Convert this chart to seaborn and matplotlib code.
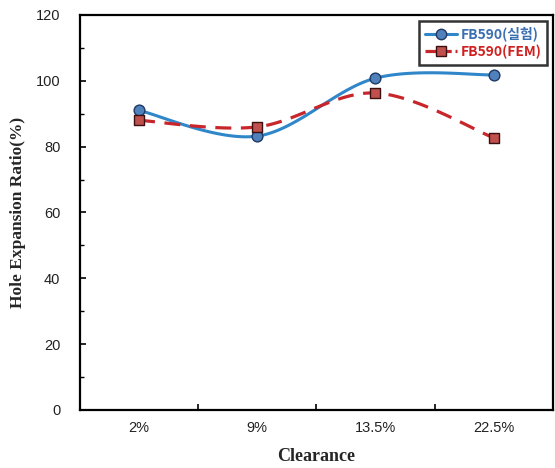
import numpy as np
import pandas as pd
import matplotlib
matplotlib.use("Agg")
import matplotlib.pyplot as plt
from matplotlib.lines import Line2D
from matplotlib.ticker import MultipleLocator, FixedLocator
import seaborn as sns

# Data
clearance = ["2%", "9%", "13.5%", "22.5%"]
her_test = [91.0, 83.2, 100.8, 101.8]   # FB590 (실험)
her_fem = [88.0, 86.0, 96.3, 82.7]      # FB590 (FEM)

sns.set_theme(style="white")
plt.rcParams["font.family"] = ["Liberation Sans", "DejaVu Sans"]


def smooth_curve(xs, ys, n=40):
    """Catmull-Rom style smoothing (cubic Bezier between neighbouring points)."""
    xs = np.asarray(xs, float)
    ys = np.asarray(ys, float)
    px = np.concatenate([[xs[0]], xs, [xs[-1]]])
    py = np.concatenate([[ys[0]], ys, [ys[-1]]])
    out_x, out_y = [], []
    t = np.linspace(0, 1, n)
    for i in range(1, len(px) - 2):
        p0 = np.array([px[i], py[i]])
        p3 = np.array([px[i + 1], py[i + 1]])
        c1 = p0 + (np.array([px[i + 1], py[i + 1]]) - np.array([px[i - 1], py[i - 1]])) / 6
        c2 = p3 - (np.array([px[i + 2], py[i + 2]]) - np.array([px[i], py[i]])) / 6
        b = ((1 - t) ** 3)[:, None] * p0 + (3 * (1 - t) ** 2 * t)[:, None] * c1 \
            + (3 * (1 - t) * t ** 2)[:, None] * c2 + (t ** 3)[:, None] * p3
        out_x.extend(b[:, 0])
        out_y.extend(b[:, 1])
    return np.array(out_x), np.array(out_y)


pos = np.arange(len(clearance))
sx1, sy1 = smooth_curve(pos, her_test)
sx2, sy2 = smooth_curve(pos, her_fem)

curves = pd.DataFrame({
    "x": np.concatenate([sx1, sx2]),
    "y": np.concatenate([sy1, sy2]),
    "series": ["test"] * len(sx1) + ["fem"] * len(sx2),
})
points = pd.DataFrame({
    "x": np.concatenate([pos, pos]),
    "y": her_test + her_fem,
    "series": ["test"] * 4 + ["fem"] * 4,
})

blue = "#2F86C8"
red = "#C8262B"

fig = plt.figure(figsize=(5.55, 4.68), dpi=100)
ax = fig.add_axes([0.144, 0.124, 0.852, 0.844])

sns.lineplot(data=curves[curves.series == "test"], x="x", y="y", sort=False,
             color=blue, linewidth=2.2, ax=ax, legend=False, estimator=None)
sns.lineplot(data=curves[curves.series == "fem"], x="x", y="y", sort=False,
             color=red, linewidth=2.3, ax=ax, legend=False, estimator=None)
ax.lines[-1].set_linestyle((0, (5, 3)))

sns.scatterplot(data=points[points.series == "test"], x="x", y="y", marker="o",
                s=60, color="#4F81BD", edgecolor="#1F3864", linewidth=1.0,
                ax=ax, legend=False, zorder=5)
sns.scatterplot(data=points[points.series == "fem"], x="x", y="y", marker="s",
                s=55, color="#C0504D", edgecolor="#3A1010", linewidth=1.0,
                ax=ax, legend=False, zorder=5)

ax.set_xlim(-0.5, 3.5)
ax.set_ylim(0, 120)
ax.yaxis.set_major_locator(MultipleLocator(20))
ax.yaxis.set_minor_locator(MultipleLocator(10))
ax.set_xticks(pos)
ax.set_xticklabels(clearance, fontsize=10.5, color="#222222")
ax.xaxis.set_minor_locator(FixedLocator([0.5, 1.5, 2.5]))
ax.tick_params(axis="x", which="major", length=0, pad=8)
ax.tick_params(axis="x", which="minor", direction="in", length=4, width=1.2,
               color="black", bottom=True)
ax.tick_params(axis="y", which="major", direction="in", length=4, width=1.2,
               color="black", labelsize=10.5, labelcolor="#222222", pad=14, left=True)
ax.tick_params(axis="y", which="minor", direction="in", length=3, width=1.0,
               color="black", left=True)

for sp in ax.spines.values():
    sp.set_color("black")
    sp.set_linewidth(1.6)

ax.set_xlabel("Clearance", fontsize=13, fontweight="bold",
              family=["Liberation Serif", "DejaVu Serif"], labelpad=9)
ax.set_ylabel("Hole Expansion Ratio(%)", fontsize=12.5, fontweight="bold",
              family=["Liberation Serif", "DejaVu Serif"], labelpad=7)

handles = [
    Line2D([0], [0], color=blue, lw=2.2, marker="o", markersize=7.5,
           markerfacecolor="#4F81BD", markeredgecolor="#1F3864"),
    Line2D([0], [0], color=red, lw=2.3, ls=(0, (3.5, 1.2)), marker="s", markersize=7,
           markerfacecolor="#C0504D", markeredgecolor="#3A1010"),
]
leg = ax.legend(handles, ["FB590(실험)", "FB590(FEM)"], loc="upper right",
                bbox_to_anchor=(0.988, 0.985), frameon=True, fancybox=False,
                handlelength=2.3, handletextpad=0.3, borderpad=0.4,
                labelspacing=0.25, borderaxespad=0.0,
                prop={"family": ["Noto Sans CJK KR", "DejaVu Sans"],
                      "weight": "bold", "size": 10})
leg.get_frame().set_edgecolor("black")
leg.get_frame().set_linewidth(1.8)
leg.get_texts()[0].set_color("#3A6FB0")
leg.get_texts()[1].set_color("#D02020")

fig.savefig("out.png", dpi=100)
